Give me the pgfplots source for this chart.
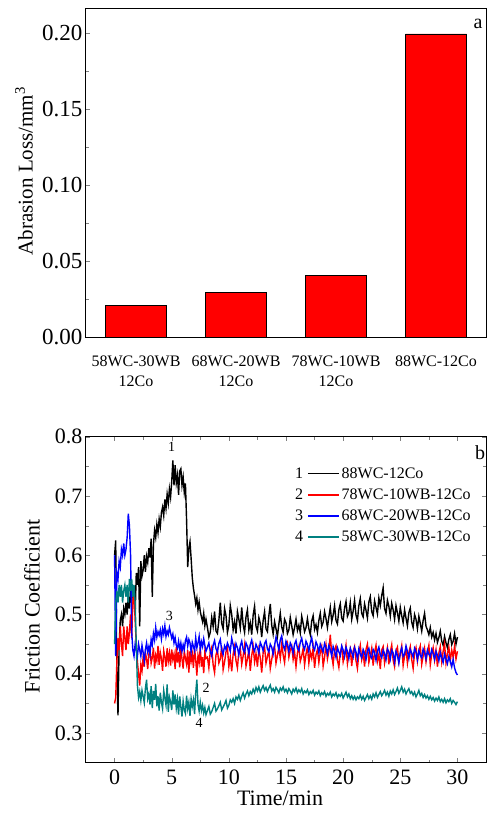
\documentclass[border=0pt]{standalone}
\usepackage{pgfplots}
\pgfplotsset{compat=1.18}
\usepackage{pgfplotstable}
\usepackage{fontspec}
\setmainfont{Liberation Serif}

\definecolor{tealline}{RGB}{0,128,128}

% friction curves: t, 88WC, 78WC, 68WC, 58WC
\pgfplotstableread{
t k r b g
0.0 0.60 0.35 0.60 0.45
0.1 0.625 0.36 0.43 0.52
0.2 0.40 0.42 0.57 0.54
0.3 0.33 0.46 0.56 0.52
0.4 0.45 0.44 0.59 0.55
0.5 0.49 0.48 0.58 0.53
0.6 0.50 0.45 0.61 0.55
0.7 0.48 0.43 0.60 0.52
0.8 0.51 0.48 0.62 0.54
0.9 0.50 0.46 0.60 0.55
1.0 0.52 0.44 0.61 0.53
1.1 0.50 0.48 0.63 0.55
1.2 0.53 0.45 0.67 0.52
1.3 0.51 0.47 0.65 0.56
1.4 0.54 0.50 0.60 0.54
1.5 0.52 0.46 0.47 0.56
1.6 0.55 0.52 0.44 0.53
1.7 0.53 0.54 0.43 0.55
1.8 0.50 0.49 0.45 0.52
1.9 0.57 0.45 0.44 0.45
2.0 0.55 0.42 0.43 0.38
2.1 0.58 0.40 0.45 0.36
2.2 0.48 0.38 0.44 0.37
2.3 0.59 0.415 0.43 0.355
2.4 0.565 0.405 0.448 0.372
2.5 0.575 0.428 0.436 0.362
2.6 0.60 0.412 0.422 0.351
2.7 0.572 0.436 0.441 0.376
2.8 0.598 0.425 0.452 0.39
2.9 0.588 0.408 0.437 0.358
3.0 0.612 0.433 0.446 0.366
3.1 0.596 0.441 0.433 0.348
3.2 0.628 0.418 0.458 0.379
3.3 0.53 0.427 0.449 0.342
3.4 0.618 0.444 0.468 0.371
3.5 0.642 0.409 0.457 0.356
3.6 0.63 0.431 0.478 0.383
3.7 0.652 0.422 0.462 0.345
3.8 0.638 0.447 0.471 0.362
3.9 0.661 0.415 0.465 0.338
4.0 0.648 0.436 0.474 0.368
4.1 0.672 0.426 0.459 0.352
4.2 0.681 0.405 0.476 0.341
4.3 0.667 0.439 0.467 0.372
4.4 0.694 0.428 0.481 0.359
4.5 0.679 0.412 0.463 0.347
4.6 0.703 0.443 0.472 0.382
4.7 0.688 0.421 0.466 0.336
4.8 0.712 0.435 0.478 0.361
4.9 0.698 0.414 0.469 0.353
5.0 0.724 0.441 0.46 0.339
5.1 0.76 0.424 0.467 0.372
5.2 0.718 0.433 0.452 0.348
5.3 0.752 0.408 0.461 0.365
5.4 0.722 0.445 0.448 0.342
5.5 0.735 0.419 0.443 0.357
5.6 0.702 0.437 0.455 0.331
5.7 0.742 0.411 0.441 0.362
5.8 0.746 0.442 0.452 0.344
5.9 0.718 0.425 0.438 0.328
6.0 0.732 0.409 0.449 0.354
6.1 0.706 0.438 0.441 0.339
6.2 0.721 0.426 0.456 0.333
6.3 0.66 0.416 0.462 0.363
6.4 0.58 0.44 0.447 0.341
6.5 0.612 0.402 0.458 0.352
6.6 0.623 0.438 0.452 0.329
6.7 0.594 0.421 0.437 0.358
6.8 0.562 0.433 0.453 0.345
6.9 0.544 0.41 0.446 0.356
7.0 0.532 0.442 0.439 0.332
7.1 0.518 0.424 0.461 0.368
7.2 0.528 0.397 0.444 0.39
7.3 0.508 0.431 0.452 0.348
7.4 0.521 0.419 0.463 0.337
7.5 0.505 0.445 0.441 0.352
7.6 0.496 0.412 0.454 0.338
7.7 0.488 0.428 0.446 0.347
7.8 0.502 0.401 0.459 0.334
7.9 0.481 0.437 0.448 0.343
8.0 0.492 0.426 0.438 0.331
8.125 0.478 0.428 0.445 0.338
8.25 0.462 0.410 0.452 0.345
8.375 0.470 0.438 0.438 0.332
8.5 0.495 0.445 0.430 0.336
8.625 0.480 0.415 0.448 0.343
8.75 0.505 0.402 0.456 0.350
8.875 0.472 0.432 0.442 0.337
9.0 0.468 0.440 0.437 0.341
9.125 0.490 0.418 0.451 0.346
9.25 0.520 0.425 0.458 0.352
9.375 0.485 0.446 0.440 0.339
9.5 0.476 0.407 0.433 0.344
9.625 0.510 0.420 0.447 0.349
9.75 0.498 0.437 0.441 0.355
9.875 0.470 0.444 0.452 0.342
10.0 0.482 0.412 0.446 0.347
10.125 0.515 0.428 0.438 0.356
10.25 0.500 0.404 0.460 0.352
10.375 0.474 0.433 0.449 0.358
10.5 0.488 0.446 0.436 0.350
10.625 0.468 0.422 0.451 0.361
10.75 0.505 0.410 0.444 0.357
10.875 0.492 0.438 0.432 0.364
11.0 0.477 0.443 0.447 0.355
11.125 0.512 0.416 0.455 0.362
11.25 0.483 0.430 0.441 0.368
11.375 0.470 0.448 0.436 0.359
11.5 0.496 0.413 0.452 0.366
11.625 0.508 0.425 0.446 0.371
11.75 0.474 0.440 0.434 0.363
11.875 0.486 0.405 0.449 0.370
12.0 0.466 0.431 0.457 0.366
12.125 0.499 0.446 0.443 0.374
12.25 0.514 0.420 0.438 0.368
12.375 0.480 0.434 0.450 0.377
12.5 0.472 0.412 0.444 0.371
12.625 0.495 0.441 0.435 0.378
12.75 0.485 0.427 0.453 0.369
12.875 0.462 0.402 0.447 0.375
13.0 0.490 0.436 0.439 0.380
13.125 0.505 0.445 0.451 0.372
13.25 0.476 0.418 0.456 0.377
13.375 0.471 0.429 0.442 0.370
13.5 0.498 0.440 0.437 0.376
13.625 0.518 0.409 0.450 0.381
13.75 0.482 0.424 0.445 0.371
13.875 0.467 0.439 0.433 0.375
14.0 0.488 0.447 0.448 0.369
14.125 0.476 0.418 0.462 0.377
14.25 0.463 0.431 0.452 0.373
14.375 0.484 0.444 0.440 0.368
14.5 0.502 0.426 0.457 0.376
14.625 0.479 0.450 0.464 0.372
14.75 0.470 0.432 0.447 0.378
14.875 0.492 0.419 0.441 0.370
15.0 0.486 0.445 0.455 0.374
15.125 0.468 0.452 0.449 0.368
15.25 0.474 0.428 0.438 0.375
15.375 0.495 0.440 0.452 0.371
15.5 0.481 0.447 0.446 0.366
15.625 0.466 0.424 0.435 0.374
15.75 0.478 0.437 0.450 0.370
15.875 0.492 0.412 0.456 0.376
16.0 0.473 0.435 0.443 0.368
16.125 0.482 0.446 0.439 0.373
16.25 0.469 0.421 0.453 0.369
16.375 0.497 0.430 0.460 0.375
16.5 0.485 0.443 0.447 0.366
16.625 0.471 0.415 0.441 0.371
16.75 0.478 0.433 0.455 0.368
16.875 0.493 0.445 0.449 0.373
17.0 0.476 0.418 0.438 0.365
17.125 0.466 0.437 0.452 0.370
17.25 0.489 0.426 0.461 0.367
17.375 0.498 0.444 0.445 0.372
17.5 0.475 0.410 0.440 0.364
17.625 0.483 0.432 0.454 0.369
17.75 0.470 0.441 0.448 0.366
17.875 0.490 0.419 0.436 0.371
18.0 0.502 0.436 0.450 0.363
18.125 0.480 0.446 0.443 0.368
18.25 0.487 0.413 0.437 0.365
18.375 0.505 0.428 0.451 0.370
18.5 0.493 0.449 0.444 0.362
18.625 0.478 0.425 0.434 0.367
18.75 0.496 0.438 0.448 0.364
18.875 0.512 0.466 0.441 0.369
19.0 0.488 0.432 0.430 0.361
19.125 0.499 0.415 0.446 0.366
19.25 0.515 0.440 0.439 0.363
19.375 0.490 0.447 0.428 0.368
19.5 0.484 0.423 0.444 0.360
19.625 0.508 0.411 0.437 0.365
19.75 0.518 0.436 0.431 0.362
19.875 0.494 0.445 0.447 0.367
20.0 0.489 0.420 0.440 0.359
20.125 0.511 0.431 0.429 0.364
20.25 0.522 0.448 0.445 0.369
20.375 0.497 0.417 0.438 0.361
20.5 0.503 0.434 0.426 0.366
20.625 0.520 0.442 0.443 0.358
20.75 0.492 0.413 0.436 0.363
20.875 0.506 0.438 0.428 0.357
21.0 0.524 0.446 0.444 0.362
21.125 0.499 0.422 0.437 0.356
21.25 0.490 0.409 0.425 0.361
21.375 0.515 0.435 0.442 0.358
21.5 0.527 0.448 0.433 0.364
21.625 0.502 0.424 0.427 0.357
21.75 0.496 0.436 0.441 0.362
21.875 0.518 0.412 0.435 0.355
22.0 0.507 0.441 0.424 0.360
22.125 0.494 0.450 0.439 0.365
22.25 0.521 0.419 0.443 0.358
22.375 0.530 0.430 0.430 0.363
22.5 0.505 0.443 0.426 0.357
22.625 0.498 0.414 0.441 0.366
22.75 0.523 0.436 0.436 0.361
22.875 0.512 0.448 0.423 0.368
23.0 0.501 0.421 0.438 0.360
23.125 0.528 0.433 0.445 0.365
23.25 0.515 0.408 0.432 0.370
23.375 0.532 0.440 0.427 0.363
23.5 0.545 0.446 0.440 0.367
23.625 0.510 0.418 0.434 0.372
23.75 0.502 0.431 0.424 0.364
23.875 0.524 0.444 0.442 0.369
24.0 0.514 0.416 0.437 0.362
24.125 0.497 0.437 0.425 0.371
24.25 0.519 0.449 0.440 0.366
24.375 0.508 0.423 0.435 0.373
24.5 0.492 0.412 0.420 0.365
24.625 0.515 0.439 0.438 0.370
24.75 0.503 0.445 0.431 0.376
24.875 0.489 0.420 0.418 0.367
25.0 0.512 0.433 0.436 0.372
25.125 0.498 0.447 0.444 0.378
25.25 0.486 0.414 0.429 0.369
25.375 0.508 0.430 0.433 0.374
25.5 0.494 0.442 0.447 0.366
25.625 0.481 0.418 0.438 0.371
25.75 0.503 0.436 0.426 0.375
25.875 0.511 0.446 0.441 0.367
26.0 0.487 0.424 0.435 0.370
26.125 0.478 0.409 0.428 0.364
26.25 0.500 0.435 0.443 0.369
26.375 0.492 0.444 0.437 0.361
26.5 0.476 0.421 0.424 0.366
26.625 0.497 0.438 0.439 0.372
26.75 0.485 0.447 0.431 0.363
26.875 0.472 0.416 0.427 0.367
27.0 0.490 0.430 0.442 0.360
27.125 0.502 0.443 0.436 0.365
27.25 0.480 0.420 0.425 0.359
27.375 0.474 0.437 0.440 0.363
27.5 0.466 0.448 0.433 0.357
27.625 0.478 0.415 0.429 0.362
27.75 0.462 0.433 0.441 0.356
27.875 0.470 0.444 0.434 0.360
28.0 0.457 0.423 0.424 0.354
28.125 0.468 0.440 0.438 0.359
28.25 0.453 0.412 0.431 0.355
28.375 0.461 0.435 0.422 0.361
28.5 0.472 0.446 0.436 0.353
28.625 0.455 0.420 0.427 0.357
28.75 0.448 0.438 0.419 0.352
28.875 0.463 0.451 0.433 0.358
29.0 0.452 0.418 0.425 0.351
29.125 0.444 0.434 0.417 0.356
29.25 0.458 0.445 0.429 0.353
29.375 0.466 0.422 0.421 0.358
29.5 0.449 0.440 0.412 0.350
29.625 0.455 0.428 0.424 0.355
29.75 0.468 0.447 0.410 0.352
29.875 0.450 0.425 0.402 0.348
30.0 0.462 0.438 0.398 0.353
}\friction

\pgfplotsset{
  numleg/.style 2 args={legend image code/.code={%
      \node[anchor=east, text=black, inner sep=0pt] at (-4pt,0pt) {#1};
      \draw[#2, line width=1.5pt] (0pt,0pt) -- (31pt,0pt);}},
}

\begin{document}
\begin{tikzpicture}
% (a) abrasion loss
\begin{axis}[
    at={(0pt,0pt)}, anchor=north west,
    scale only axis, width=400pt, height=328pt,
    xmin=-0.5, xmax=3.5, ymin=0, ymax=0.2158,
    xtick={0,1,2,3},
    xticklabels={{58WC-30WB\\12Co},{68WC-20WB\\12Co},{78WC-10WB\\12Co},{88WC-12Co}},
    major x tick style={draw=none},
    extra x ticks={0.5,1.5,2.5}, extra x tick labels={},
    extra x tick style={tick align=outside},
    xtick pos=bottom, ytick pos=left,
    tick align=inside,
    ytick={0,0.05,0.1,0.15,0.2}, minor y tick num=1,
    scaled y ticks=false,
    /pgf/number format/assume math mode=true,
    yticklabel={\pgfmathprintnumber[fixed, fixed zerofill, precision=2]{\tick}},
    yticklabel style={font=\fontsize{23}{27}\selectfont},
    xticklabel style={align=center, font=\fontsize{16}{20}\selectfont, yshift=-15pt},
    ylabel={Abrasion Loss/mm\textsuperscript{3}},
    ylabel style={font=\fontsize{21}{25}\selectfont, at={(rel axis cs:-0.155,0.506)}, anchor=center},
    axis line style={line width=1pt},
  ]
  \addplot[ybar, bar width=61pt, fill=red, draw=black, line width=0.5pt]
    coordinates {(0,0.021) (1,0.0294) (2,0.0406) (3,0.1995)};
  \node[font=\fontsize{20}{24}\selectfont] at (rel axis cs:0.98,0.955) {a};
\end{axis}

% (b) friction coefficient
\begin{axis}[
    at={(0pt,-427.7pt)}, anchor=north west,
    scale only axis, width=400pt, height=326pt,
    xmin=-2.5, xmax=32.5, ymin=0.25, ymax=0.8,
    xtick={0,5,...,30}, minor x tick num=1,
    ytick={0.3,0.4,...,0.8}, minor y tick num=1,
    tick align=inside,
    /pgf/number format/assume math mode=true,
    xticklabel={\pgfmathprintnumber{\tick}},
    yticklabel={\pgfmathprintnumber[fixed, fixed zerofill, precision=1]{\tick}},
    tick label style={font=\fontsize{22}{26}\selectfont},
    xticklabel style={yshift=-4pt},
    xlabel={Time/min}, ylabel={Friction Coefficient},
    label style={font=\fontsize{22}{26}\selectfont},
    xlabel style={at={(rel axis cs:0.485,-0.108)}, anchor=center},
    ylabel style={at={(rel axis cs:-0.135,0.48)}, anchor=center},
    axis line style={line width=1pt},
    legend style={draw=none, fill=none, font=\fontsize{16}{19}\selectfont,
      at={(rel axis cs:0.515,0.918)}, anchor=north west, row sep=5pt},
    legend cell align=left,
  ]
  \addplot[black, line width=1.4pt, numleg={1}{black}] table[x=t, y=k] {\friction};
  \addlegendentry{88WC-12Co}
  \addplot[red, line width=1.4pt, numleg={2}{red}] table[x=t, y=r] {\friction};
  \addlegendentry{78WC-10WB-12Co}
  \addplot[blue, line width=1.4pt, numleg={3}{blue}] table[x=t, y=b] {\friction};
  \addlegendentry{68WC-20WB-12Co}
  \addplot[tealline, line width=1.4pt, numleg={4}{tealline}] table[x=t, y=g] {\friction};
  \addlegendentry{58WC-30WB-12Co}
  \node[font=\fontsize{14}{16}\selectfont] at (axis cs:5.0,0.783) {1};
  \node[font=\fontsize{14}{16}\selectfont] at (axis cs:4.8,0.497) {3};
  \node[font=\fontsize{14}{16}\selectfont] at (axis cs:8.0,0.377) {2};
  \node[font=\fontsize{14}{16}\selectfont] at (axis cs:7.4,0.317) {4};
  \node[font=\fontsize{20}{24}\selectfont] at (rel axis cs:0.985,0.952) {b};
\end{axis}
\pgfresetboundingbox
\path[use as bounding box] (-86pt,9pt) rectangle (401pt,-812pt);
\end{tikzpicture}
\end{document}
